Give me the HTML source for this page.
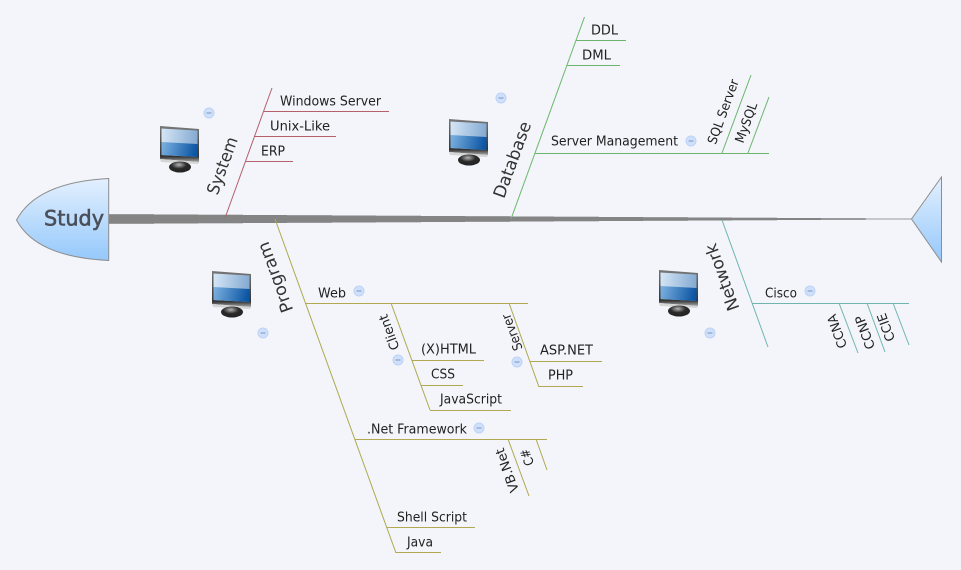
<!DOCTYPE html>
<html><head><meta charset="utf-8"><style>
html,body{margin:0;padding:0;background:#f3f5fb;width:961px;height:570px;overflow:hidden}
svg{display:block}
text{font-family:"DejaVu Sans",sans-serif;fill:#222}
.h{font-size:13px}
.r{font-size:13px;text-anchor:middle;dominant-baseline:central}
.b{font-size:17px;text-anchor:middle;dominant-baseline:central;fill:#333}
line{stroke-width:1}
.red line{stroke:#b5606a}.grn line{stroke:#6cb56c}.olv line{stroke:#b0a94f}.tl line{stroke:#6fb5ae}
</style></head><body>
<svg width="961" height="570" viewBox="0 0 961 570" xmlns="http://www.w3.org/2000/svg">
<defs>
<linearGradient id="f" x1="0" y1="0" x2="0" y2="1"><stop offset="0" stop-color="#e3f0fe"/><stop offset="1" stop-color="#95c8fb"/></linearGradient>
<linearGradient id="s" x1="0" y1="0" x2="1" y2="0.1"><stop offset="0" stop-color="#7db2e0"/><stop offset="1" stop-color="#0d56a4"/></linearGradient>
<linearGradient id="s2" x1="0" y1="0" x2="1" y2="0.1"><stop offset="0" stop-color="#d6e7f6"/><stop offset="1" stop-color="#86abd2"/></linearGradient>
<radialGradient id="m" cx=".45" cy=".3" r=".7"><stop offset="0" stop-color="#b5b5b5"/><stop offset=".5" stop-color="#2a2a2a"/><stop offset="1" stop-color="#222"/></radialGradient>
<linearGradient id="p" x1="0" y1="0" x2="0" y2="1"><stop offset="0" stop-color="#777"/><stop offset=".85" stop-color="#333"/><stop offset="1" stop-color="#aaa"/></linearGradient>
<g id="mon">
<polygon points="0,0 39,3 39,36 0,33" fill="url(#p)"/>
<polygon points="1.5,2.5 37.5,4.5 37.5,31 1.5,29" fill="url(#s2)"/>
<polygon points="1.5,16 37.5,18 37.5,31 1.5,29" fill="url(#s)"/>
<polygon points="0,33 39,36 38,38 1,36" fill="#d5d5d5"/>
<ellipse cx="20" cy="41" rx="11" ry="5.5" fill="url(#m)"/>
</g>
<g id="col"><circle r="5" fill="#cfe0fb" stroke="#bcd2f5"/><line x1="-2.5" x2="2.5" y1="0" y2="0" style="stroke:#7c93c0"/></g>
</defs>

<!-- spine -->
<g fill="#848484">
<rect x="109" y="214.2" width="45" height="9.6"/><rect x="153" y="214.5" width="45" height="9"/>
<rect x="198" y="214.7" width="45" height="8.6"/><rect x="242" y="215" width="45" height="8"/>
<rect x="287" y="215.2" width="45" height="7.6"/><rect x="331" y="215.5" width="45" height="7"/>
<rect x="376" y="215.7" width="45" height="6.6"/><rect x="420" y="216" width="45" height="6"/>
<rect x="465" y="216.2" width="45" height="5.6"/><rect x="509" y="216.5" width="45" height="5"/>
<rect x="554" y="216.7" width="45" height="4.6"/><rect x="598" y="217" width="45" height="4"/>
<rect x="643" y="217.2" width="45" height="3.6"/><rect x="687" y="217.5" width="45" height="3"/>
<rect x="732" y="217.7" width="45" height="2.6"/><rect x="776" y="218" width="45" height="2"/>
<rect x="821" y="218.2" width="45" height="1.6"/><rect x="865" y="218.5" width="47" height="1" fill="#999"/>
</g>

<!-- head + tail -->
<path d="M108.7,178.5 C60,181 30,195 16.5,220 C30,245 60,258 108.7,260.5 Z" fill="url(#f)" stroke="#8d8d8d" stroke-width="1"/>
<polygon points="911.5,219 941.5,177 941.5,262" fill="url(#f)" stroke="#8d8d8d" stroke-width="1"/>
<text x="44" y="225.5" font-size="21" textLength="60" lengthAdjust="spacingAndGlyphs" style="fill:#4b505a;stroke:#4b505a;stroke-width:.6">Study</text>

<g class="red">
<line x1="225" y1="218" x2="272" y2="88"/>
<line x1="264" y1="111.5" x2="389" y2="111.5"/>
<line x1="254" y1="136.5" x2="336" y2="136.5"/>
<line x1="246" y1="161.5" x2="293" y2="161.5"/>
</g>
<g class="grn">
<line x1="511" y1="219" x2="584.5" y2="17"/>
<line x1="576" y1="40.5" x2="626" y2="40.5"/>
<line x1="567" y1="65.5" x2="620" y2="65.5"/>
<line x1="535" y1="153.5" x2="769" y2="153.5"/>
<line x1="722" y1="153" x2="751" y2="75"/>
<line x1="748" y1="153" x2="769" y2="97"/>
</g>
<g class="olv">
<line x1="275" y1="219" x2="396" y2="553"/>
<line x1="305" y1="303.5" x2="528" y2="303.5"/>
<line x1="391" y1="303" x2="430" y2="410"/>
<line x1="412" y1="360.5" x2="484" y2="360.5"/>
<line x1="421" y1="385.5" x2="463" y2="385.5"/>
<line x1="430" y1="410.5" x2="511" y2="410.5"/>
<line x1="509" y1="303" x2="539" y2="387"/>
<line x1="530" y1="361.5" x2="602" y2="361.5"/>
<line x1="539" y1="386.5" x2="583" y2="386.5"/>
<line x1="355" y1="439.5" x2="547" y2="439.5"/>
<line x1="508" y1="439" x2="529" y2="496"/>
<line x1="536" y1="439" x2="547" y2="470"/>
<line x1="387" y1="527.5" x2="475" y2="527.5"/>
<line x1="396" y1="552.5" x2="441" y2="552.5"/>
</g>
<g class="tl">
<line x1="722" y1="220" x2="768" y2="347"/>
<line x1="752" y1="303.5" x2="909" y2="303.5"/>
<line x1="839" y1="303" x2="858" y2="353"/>
<line x1="867" y1="303" x2="885" y2="352"/>
<line x1="893" y1="303" x2="909" y2="345"/>
</g>

<!-- monitors -->
<use href="#mon" x="160" y="126"/>
<use href="#mon" x="449" y="119"/>
<use href="#mon" x="212" y="271"/>
<use href="#mon" x="659" y="270"/>

<!-- collapse markers -->
<use href="#col" x="209" y="113"/>
<use href="#col" x="501" y="98"/>
<use href="#col" x="691" y="141"/>
<use href="#col" x="263" y="333"/>
<use href="#col" x="398" y="360"/>
<use href="#col" x="517" y="362"/>
<use href="#col" x="359" y="291"/>
<use href="#col" x="479" y="428"/>
<use href="#col" x="810" y="291"/>
<use href="#col" x="710" y="333"/>

<!-- horizontal labels -->
<text class="h" x="280" y="105.5" textLength="101" lengthAdjust="spacingAndGlyphs">Windows Server</text>
<text class="h" x="270" y="130.5" textLength="60" lengthAdjust="spacingAndGlyphs">Unix-Like</text>
<text class="h" x="261" y="155.5" textLength="24" lengthAdjust="spacingAndGlyphs">ERP</text>
<text class="h" x="591" y="34.5" textLength="27" lengthAdjust="spacingAndGlyphs">DDL</text>
<text class="h" x="582" y="59.5" textLength="29" lengthAdjust="spacingAndGlyphs">DML</text>
<text class="h" x="551" y="145.5" textLength="127" lengthAdjust="spacingAndGlyphs">Server Management</text>
<text class="h" x="318" y="297.5" textLength="28" lengthAdjust="spacingAndGlyphs">Web</text>
<text class="h" x="421" y="353.5" textLength="55" lengthAdjust="spacingAndGlyphs">(X)HTML</text>
<text class="h" x="431" y="378.5" textLength="24" lengthAdjust="spacingAndGlyphs">CSS</text>
<text class="h" x="440" y="403.5" textLength="62" lengthAdjust="spacingAndGlyphs">JavaScript</text>
<text class="h" x="540" y="354.5" textLength="53" lengthAdjust="spacingAndGlyphs">ASP.NET</text>
<text class="h" x="548" y="379.5" textLength="25" lengthAdjust="spacingAndGlyphs">PHP</text>
<text class="h" x="367" y="433.5" textLength="100" lengthAdjust="spacingAndGlyphs">.Net Framework</text>
<text class="h" x="397" y="521.5" textLength="70" lengthAdjust="spacingAndGlyphs">Shell Script</text>
<text class="h" x="407" y="546.5" textLength="26" lengthAdjust="spacingAndGlyphs">Java</text>
<text class="h" x="765" y="297.5" textLength="32" lengthAdjust="spacingAndGlyphs">Cisco</text>

<!-- rotated labels -->
<text class="b" transform="translate(223,166) rotate(-70)" textLength="60" lengthAdjust="spacingAndGlyphs">System</text>
<text class="b" transform="translate(513,160) rotate(-70)" textLength="80" lengthAdjust="spacingAndGlyphs">Database</text>
<text class="b" transform="translate(276,277) rotate(-110)" textLength="74" lengthAdjust="spacingAndGlyphs">Program</text>
<text class="b" transform="translate(723,277) rotate(-110)" textLength="70" lengthAdjust="spacingAndGlyphs">Network</text>
<text class="r" transform="translate(390,332) rotate(-110)" textLength="37" lengthAdjust="spacingAndGlyphs">Client</text>
<text class="r" transform="translate(513,332) rotate(-110)" textLength="38" lengthAdjust="spacingAndGlyphs">Server</text>
<text class="r" transform="translate(724,112) rotate(-70)" textLength="68" lengthAdjust="spacingAndGlyphs">SQL Server</text>
<text class="r" transform="translate(747,123) rotate(-70)" textLength="42" lengthAdjust="spacingAndGlyphs">MySQL</text>
<text class="r" transform="translate(838,331) rotate(-110)" textLength="35" lengthAdjust="spacingAndGlyphs">CCNA</text>
<text class="r" transform="translate(866,332) rotate(-110)" textLength="35" lengthAdjust="spacingAndGlyphs">CCNP</text>
<text class="r" transform="translate(887,327) rotate(-110)" textLength="29" lengthAdjust="spacingAndGlyphs">CCIE</text>
<text class="r" transform="translate(508,470) rotate(-110)" textLength="46" lengthAdjust="spacingAndGlyphs">VB.Net</text>
<text class="r" transform="translate(528,457) rotate(-110)" textLength="17" lengthAdjust="spacingAndGlyphs">C#</text>
</svg>
</body></html>
